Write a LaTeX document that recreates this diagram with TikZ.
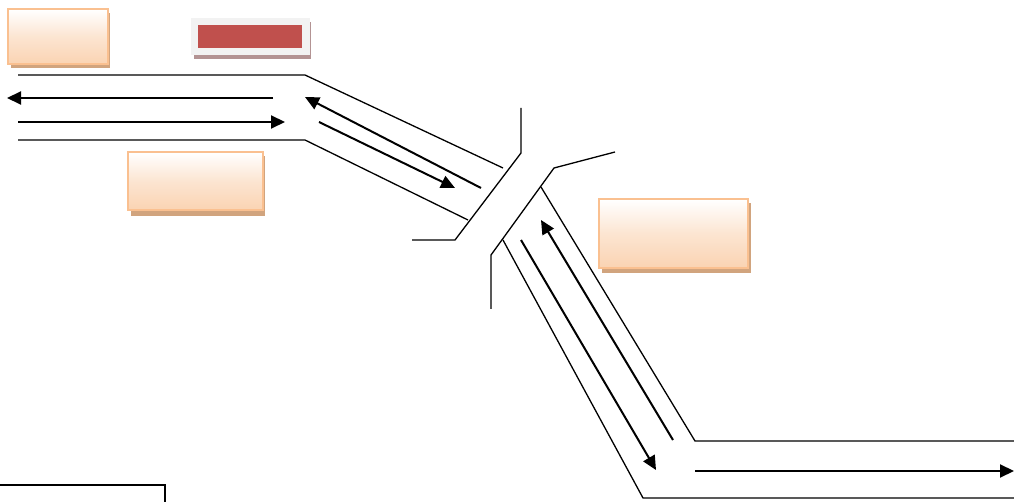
\documentclass[tikz,border=0pt]{standalone}
\usetikzlibrary{arrows.meta}
\definecolor{peachB}{HTML}{FAC090}
\definecolor{peachF}{HTML}{FAD3B2}
\definecolor{peachS}{HTML}{D1A47E}
\definecolor{redF}{HTML}{C0504D}
\definecolor{redS}{HTML}{B39393}
\definecolor{grayF}{HTML}{F2F2F2}
\tikzset{
  road/.style={line width=1.3pt, line join=miter},
  flow/.style={line width=2pt, -{Triangle[length=14pt,width=13pt]}},
  shadowbox/.style={fill=peachS, draw=none},
  peachbox/.style={top color=white, bottom color=peachF, middle color=white!40!peachF, draw=peachB, line width=2pt},
}
\begin{document}
\begin{tikzpicture}[x=1pt,y=-1pt]
\useasboundingbox (0,0) rectangle (1014,502);
% boxes with shadows
\fill[shadowbox] (11,13) rectangle (110,68);
\node[peachbox, minimum width=100pt, minimum height=55pt, inner sep=0pt] (b1) at (57.5,37) {};
\fill[shadowbox] (131,156) rectangle (265,216);
\node[peachbox, minimum width=135pt, minimum height=58pt, inner sep=0pt] (b2) at (195,181.5) {};
\fill[shadowbox] (602,203) rectangle (751,273);
\node[peachbox, minimum width=149pt, minimum height=69pt, inner sep=0pt] (b3) at (673,234) {};
% red box
\fill[redS] (194,22) rectangle (311,59);
\node[fill=grayF, minimum width=119pt, minimum height=37pt, inner sep=0pt] (rf) at (250,36.5) {};
\node[fill=redF, minimum width=104pt, minimum height=23pt, inner sep=0pt] (rb) at (250,36.5) {};
% coordinates
\coordinate (t1) at (18,75); \coordinate (t2) at (305,75); \coordinate (t3) at (503,168);
\coordinate (u1) at (18,140); \coordinate (u2) at (305,140); \coordinate (u3) at (468,220);
\coordinate (la1) at (273,98); \coordinate (la2) at (7,98);
\coordinate (ra1) at (18,122); \coordinate (ra2) at (285,122);
\coordinate (d1a) at (481,188); \coordinate (d1b) at (305,97);
\coordinate (d2a) at (319,122); \coordinate (d2b) at (455,188);
\coordinate (j1) at (521,108); \coordinate (j2) at (521,153); \coordinate (j3) at (455,240); \coordinate (j4) at (412,240);
\coordinate (k1) at (615,152); \coordinate (k2) at (554,168); \coordinate (k3) at (491,255); \coordinate (k4) at (491,309);
\coordinate (r1) at (541,187); \coordinate (r2) at (695,441); \coordinate (r3) at (1014,441);
\coordinate (s1) at (503,240); \coordinate (s2) at (643,498); \coordinate (s3) at (1014,498);
\coordinate (ua) at (673,440); \coordinate (ub) at (541,220);
\coordinate (da) at (521,240); \coordinate (db) at (656,470);
\coordinate (ha) at (695,471); \coordinate (hb) at (1014,471);
\coordinate (q1) at (0,485); \coordinate (q2) at (165,485); \coordinate (q3) at (165,502);
% roads
\draw[road] (t1) -- (t2) -- (t3);
\draw[road] (u1) -- (u2) -- (u3);
\draw[road] (j1) -- (j2) -- (j3) -- (j4);
\draw[road] (k1) -- (k2) -- (k3) -- (k4);
\draw[road] (r1) -- (r2) -- (r3);
\draw[road] (s1) -- (s2) -- (s3);
\draw[road] (q1) -- (q2) -- (q3);
% flows
\draw[flow] (la1) -- (la2);
\draw[flow] (ra1) -- (ra2);
\draw[flow] (d1a) -- (d1b);
\draw[flow] (d2a) -- (d2b);
\draw[flow] (ua) -- (ub);
\draw[flow] (da) -- (db);
\draw[flow] (ha) -- (hb);
\end{tikzpicture}
\end{document}
